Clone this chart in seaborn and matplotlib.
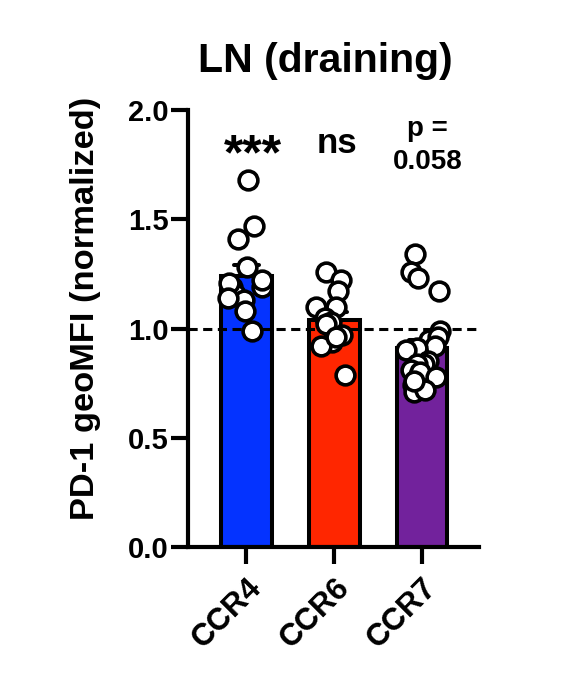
import numpy as np
import pandas as pd
import seaborn as sns
import matplotlib.pyplot as plt

# values (PD-1 geoMFI, normalized)
ccr4 = [1.68, 1.47, 1.41, 1.28, 1.19, 1.22, 1.19, 1.16, 1.21, 1.13, 1.14, 1.08, 0.99]
ccr6 = [1.26, 1.22, 1.17, 1.10, 1.10, 1.05, 1.03, 1.02, 0.97, 0.94, 0.92, 0.96, 0.79]
ccr7 = [1.34, 1.26, 1.23, 1.17, 0.99, 0.95, 0.96, 0.92, 0.91, 0.90, 0.85, 0.84,
        0.84, 0.81, 0.78, 0.76, 0.74, 0.71, 0.80, 0.78, 0.72, 0.76]
groups = ["CCR4", "CCR6", "CCR7"]
bar_colors = ["#0433FF", "#FF2600", "#72229C"]
stars = ["***", "ns"]
p_text = ["p =", "0.058"]

df = pd.DataFrame({
    "group": ["CCR4"] * len(ccr4) + ["CCR6"] * len(ccr6) + ["CCR7"] * len(ccr7),
    "value": ccr4 + ccr6 + ccr7,
})

sns.set_theme(style="ticks")
plt.rcParams["font.family"] = ["Liberation Sans", "DejaVu Sans"]
plt.rcParams["font.weight"] = "bold"
for key in ["text.color", "axes.labelcolor", "axes.edgecolor",
            "xtick.color", "ytick.color"]:
    plt.rcParams[key] = "black"

fig = plt.figure(figsize=(5.69, 6.74), dpi=100)
ax = fig.add_axes([0.331, 0.188, 0.511, 0.649])

sns.barplot(
    data=df, x="group", y="value", hue="group", order=groups,
    palette=bar_colors, legend=False, width=0.58, saturation=1,
    errorbar="se", capsize=0.29,
    edgecolor="black", linewidth=2.9,
    err_kws={"color": "black", "linewidth": 2.9, "zorder": 0.5},
    ax=ax,
)
ax.axhline(1.0, color="black", lw=2.2, ls=(0, (3, 1.8)), zorder=2)

np.random.seed(3)
sns.stripplot(
    data=df, x="group", y="value", order=groups, jitter=0.22,
    color="white", edgecolor="black", linewidth=2.6, size=13.5,
    zorder=3, ax=ax,
)

ax.set_xlim(-0.66, 2.65)
ax.set_ylim(0, 2.0)
ax.set_yticks([0, 0.5, 1.0, 1.5, 2.0])
ax.set_yticklabels(["0.0", "0.5", "1.0", "1.5", "2.0"])
ax.set_xlabel("")
ax.set_ylabel("")
for side in ["top", "right"]:
    ax.spines[side].set_visible(False)
for side in ["left", "bottom"]:
    ax.spines[side].set_linewidth(3)
ax.tick_params(axis="both", width=3, length=12, color="black", pad=2)
ax.tick_params(axis="y", labelsize=21)
ax.tick_params(axis="x", labelsize=22.5, pad=6)
ax.set_xticks(range(len(groups)))
ax.set_xticklabels(groups, rotation=45, ha="right", rotation_mode="anchor",
                   fontweight="bold")
for lab in ax.get_yticklabels():
    lab.set_fontweight("bold")

# significance labels
ax.text(0.08, 1.73, stars[0], ha="center", va="baseline", fontsize=36, fontweight="bold")
ax.text(1.03, 1.805, stars[1], ha="center", va="baseline", fontsize=25, fontweight="bold")
ax.text(2.06, 1.88, p_text[0], ha="center", va="baseline", fontsize=20, fontweight="bold")
ax.text(2.07, 1.73, p_text[1], ha="center", va="baseline", fontsize=20, fontweight="bold")

fig.text(325 / 569, 1 - 71.7 / 674, "LN (draining)", ha="center", va="baseline",
         fontsize=29.5, fontweight="bold")
fig.text(86 / 569, 1 - 308.5 / 674, "PD-1 geoMFI (normalized)", rotation=90,
         ha="center", va="center", fontsize=24.8, fontweight="bold")

fig.savefig("out.png", dpi=100, facecolor="white")
